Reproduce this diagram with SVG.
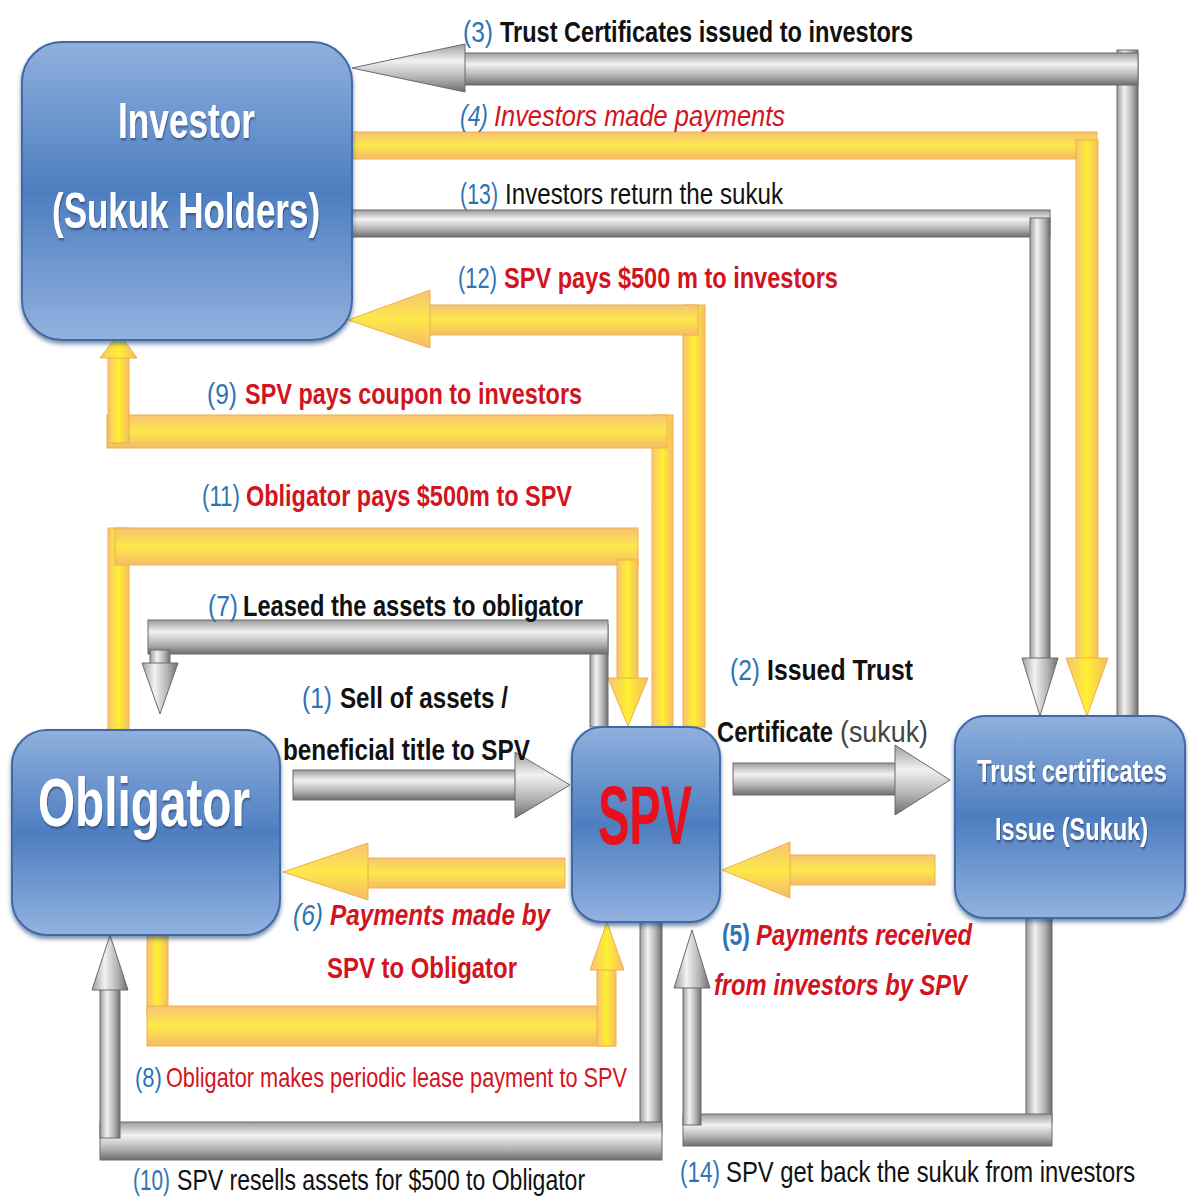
<svg xmlns="http://www.w3.org/2000/svg" width="1188" height="1201" viewBox="0 0 1188 1201">
<defs>
<linearGradient id="gH" x1="0" y1="0" x2="0" y2="1"><stop offset="0" stop-color="#9c9c9c"/><stop offset="0.35" stop-color="#f2f2f2"/><stop offset="0.7" stop-color="#b4b4b4"/><stop offset="1" stop-color="#6e6e6e"/></linearGradient>
<linearGradient id="gV" x1="0" y1="0" x2="1" y2="0"><stop offset="0" stop-color="#9c9c9c"/><stop offset="0.35" stop-color="#f2f2f2"/><stop offset="0.7" stop-color="#b4b4b4"/><stop offset="1" stop-color="#6e6e6e"/></linearGradient>
<linearGradient id="yH" x1="0" y1="0" x2="0" y2="1"><stop offset="0" stop-color="#f7c274"/><stop offset="0.5" stop-color="#fde84a"/><stop offset="1" stop-color="#f5bb66"/></linearGradient>
<linearGradient id="yV" x1="0" y1="0" x2="1" y2="0"><stop offset="0" stop-color="#f7c274"/><stop offset="0.5" stop-color="#fff030"/><stop offset="1" stop-color="#f5bb66"/></linearGradient>
<linearGradient id="box" x1="0" y1="0" x2="0" y2="1"><stop offset="0" stop-color="#8fb0dd"/><stop offset="0.5" stop-color="#4d7ec0"/><stop offset="1" stop-color="#93b2e0"/></linearGradient>
<filter id="sh" x="-10%" y="-10%" width="120%" height="125%"><feDropShadow dx="0" dy="3" stdDeviation="2" flood-color="#1f3f6e" flood-opacity="0.6"/></filter>
<filter id="tsh" x="-10%" y="-20%" width="120%" height="140%"><feDropShadow dx="1" dy="2" stdDeviation="1" flood-color="#1b2f55" flood-opacity="0.6"/></filter>
</defs>
<style>
.gh{fill:url(#gH);stroke:#6a6a6a;stroke-width:1}
.gv{fill:url(#gV);stroke:#6a6a6a;stroke-width:1}
.yh{fill:url(#yH);stroke:#f0b04c;stroke-width:1}
.yv{fill:url(#yV);stroke:#f0b04c;stroke-width:1}
.node{fill:url(#box);stroke:#3f6aa6;stroke-width:2;filter:url(#sh)}
.nt{font-family:"Liberation Sans",Arial,sans-serif;font-weight:bold;fill:#ffffff;filter:url(#tsh)}
.lb{font-family:"Liberation Sans",Arial,sans-serif;font-size:30px}
.n{fill:#2e74b5;font-weight:normal}
.k{fill:#111111}
.r{fill:#d2141e}
.b{font-weight:bold}
.i{font-style:italic}
</style>
<rect width="1188" height="1201" fill="#ffffff"/>
<g id="connectors">
<!-- (3) -->
<rect class="gv" x="1117" y="50" width="21" height="666"/>
<rect class="gh" x="462" y="53" width="676" height="32"/>
<polygon class="gh" points="352,68 465,44 465,92"/>
<!-- (4) -->
<rect class="yh" x="352" y="132" width="745" height="27"/>
<rect class="yv" x="1076" y="140" width="22" height="520"/>
<polygon class="yv" points="1066,658 1108,658 1087,716"/>
<!-- (13) -->
<rect class="gh" x="352" y="210" width="698" height="27"/>
<rect class="gv" x="1030" y="218" width="20" height="442"/>
<polygon class="gv" points="1022,658 1058,658 1040,716"/>
<!-- (12) -->
<rect class="yv" x="683" y="305" width="22" height="422"/>
<rect class="yh" x="428" y="305" width="270" height="30"/>
<polygon class="yh" points="348,320 430,290 430,348"/>
<!-- (9) -->
<rect class="yv" x="652" y="415" width="21" height="312"/>
<rect class="yh" x="107" y="415" width="560" height="33"/>
<rect class="yv" x="108" y="355" width="21" height="88"/>
<polygon class="yv" points="100,358 137,358 119,333"/>
<!-- (11) -->
<rect class="yv" x="108" y="528" width="21" height="202"/>
<rect class="yh" x="115" y="528" width="523" height="37"/>
<rect class="yv" x="617" y="560" width="21" height="120"/>
<polygon class="yv" points="608,678 648,678 628,726"/>
<!-- (7) -->
<rect class="gv" x="590" y="625" width="18" height="102"/>
<rect class="gh" x="148" y="620" width="460" height="34"/>
<rect class="gv" x="150" y="650" width="20" height="15"/>
<polygon class="gv" points="142,663 178,663 160,714"/>
<!-- (1) -->
<rect class="gh" x="293" y="770" width="224" height="30"/>
<polygon class="gh" points="515,752 515,818 570,785"/>
<!-- (6) -->
<rect class="yh" x="366" y="858" width="199" height="30"/>
<polygon class="yh" points="368,843 368,900 283,872"/>
<!-- (2) -->
<rect class="gh" x="733" y="763" width="164" height="32"/>
<polygon class="gh" points="895,745 895,815 950,780"/>
<!-- (5) -->
<rect class="yh" x="788" y="855" width="147" height="30"/>
<polygon class="yh" points="790,842 790,898 722,870"/>
<!-- (8) -->
<rect class="yv" x="147" y="935" width="21" height="80"/>
<rect class="yh" x="147" y="1006" width="468" height="40"/>
<rect class="yv" x="597" y="968" width="19" height="78"/>
<polygon class="yv" points="590,970 624,970 607,922"/>
<!-- (10) -->
<rect class="gv" x="640" y="922" width="22" height="210"/>
<rect class="gh" x="100" y="1122" width="562" height="38"/>
<rect class="gv" x="100" y="988" width="20" height="150"/>
<polygon class="gv" points="92,990 128,990 110,935"/>
<!-- (14) -->
<rect class="gv" x="1026" y="918" width="26" height="205"/>
<rect class="gh" x="683" y="1114" width="369" height="32"/>
<rect class="gv" x="683" y="985" width="18" height="140"/>
<polygon class="gv" points="674,988 710,988 692,930"/>
</g>
<g id="labels" class="lb" transform="scale(0.82,1)">
<text y="42"><tspan class="n" x="564.6" textLength="36.6" lengthAdjust="spacingAndGlyphs">(3)</tspan><tspan class="k b" x="609.8" textLength="503.7" lengthAdjust="spacingAndGlyphs">Trust Certificates issued to investors</tspan></text>
<text y="126"><tspan class="n i" x="561" textLength="34.1" lengthAdjust="spacingAndGlyphs">(4)</tspan><tspan class="r i" x="602.4" textLength="354.9" lengthAdjust="spacingAndGlyphs">Investors made payments</tspan></text>
<text y="204"><tspan class="n" x="561" textLength="46.3" lengthAdjust="spacingAndGlyphs">(13)</tspan><tspan class="k" x="615.9" textLength="339" lengthAdjust="spacingAndGlyphs">Investors return the sukuk</tspan></text>
<text y="288"><tspan class="n" x="558.5" textLength="47.6" lengthAdjust="spacingAndGlyphs">(12)</tspan><tspan class="r b" x="614.6" textLength="407.3" lengthAdjust="spacingAndGlyphs">SPV pays $500 m to investors</tspan></text>
<text y="404"><tspan class="n" x="252.4" textLength="36.6" lengthAdjust="spacingAndGlyphs">(9)</tspan><tspan class="r b" x="298.8" textLength="411" lengthAdjust="spacingAndGlyphs">SPV pays coupon to investors</tspan></text>
<text y="506"><tspan class="n" x="246.3" textLength="46.3" lengthAdjust="spacingAndGlyphs">(11)</tspan><tspan class="r b" x="300" textLength="397.6" lengthAdjust="spacingAndGlyphs">Obligator pays $500m to SPV</tspan></text>
<text y="616"><tspan class="n" x="253.7" textLength="36.6" lengthAdjust="spacingAndGlyphs">(7)</tspan><tspan class="k b" x="296.3" textLength="414.6" lengthAdjust="spacingAndGlyphs">Leased the assets to obligator</tspan></text>
<text y="708"><tspan class="n" x="368.3" textLength="36.6" lengthAdjust="spacingAndGlyphs">(1)</tspan><tspan class="k b" x="414.6" textLength="204.9" lengthAdjust="spacingAndGlyphs">Sell of assets /</tspan></text>
<text y="760"><tspan class="k b" x="345.1" textLength="301.2" lengthAdjust="spacingAndGlyphs">beneficial title to SPV</tspan></text>
<text y="680"><tspan class="n" x="890.2" textLength="36.6" lengthAdjust="spacingAndGlyphs">(2)</tspan><tspan class="k b" x="935.4" textLength="178" lengthAdjust="spacingAndGlyphs">Issued Trust</tspan></text>
<text y="742"><tspan class="k b" x="874.4" textLength="141.5" lengthAdjust="spacingAndGlyphs">Certificate</tspan><tspan fill="#444444" x="1024.4" textLength="107.3" lengthAdjust="spacingAndGlyphs">(sukuk)</tspan></text>
<text y="925"><tspan class="n i" x="357.3" textLength="36.6" lengthAdjust="spacingAndGlyphs">(6)</tspan><tspan class="r b i" x="402.4" textLength="268.3" lengthAdjust="spacingAndGlyphs">Payments made by</tspan></text>
<text y="978"><tspan class="r b" x="398.8" textLength="231.7" lengthAdjust="spacingAndGlyphs">SPV to Obligator</tspan></text>
<text y="945"><tspan class="n b" x="880.5" textLength="34.1" lengthAdjust="spacingAndGlyphs">(5)</tspan><tspan class="r b i" x="922" textLength="263.4" lengthAdjust="spacingAndGlyphs">Payments received</tspan></text>
<text y="995"><tspan class="r b i" x="870.7" textLength="308.5" lengthAdjust="spacingAndGlyphs">from investors by SPV</tspan></text>
<text y="1087" font-size="27"><tspan class="n" x="164.6" textLength="32.9" lengthAdjust="spacingAndGlyphs">(8)</tspan><tspan class="r" x="202.4" textLength="562.2" lengthAdjust="spacingAndGlyphs">Obligator makes periodic lease payment to SPV</tspan></text>
<text y="1190"><tspan class="n" x="162.2" textLength="45.1" lengthAdjust="spacingAndGlyphs">(10)</tspan><tspan class="k" x="215.9" textLength="497.6" lengthAdjust="spacingAndGlyphs">SPV resells assets for $500 to Obligator</tspan></text>
<text y="1182"><tspan class="n" x="829.3" textLength="48.8" lengthAdjust="spacingAndGlyphs">(14)</tspan><tspan class="k" x="885.4" textLength="498.8" lengthAdjust="spacingAndGlyphs">SPV get back the sukuk from investors</tspan></text>
</g>
<g id="investor">
<rect class="node" x="22" y="42" width="330" height="298" rx="40"/>
<text class="nt" transform="translate(118,138) scale(0.7,1)" x="0" y="0" font-size="50" textLength="195.7" lengthAdjust="spacingAndGlyphs">Investor</text>
<text class="nt" transform="translate(52,228) scale(0.7,1)" x="0" y="0" font-size="50" textLength="382.9" lengthAdjust="spacingAndGlyphs">(Sukuk Holders)</text>
</g>
<g id="obligator">
<rect class="node" x="12" y="730" width="268" height="205" rx="35"/>
<text class="nt" transform="translate(38,826) scale(0.7,1)" x="0" y="0" font-size="68" textLength="302.9" lengthAdjust="spacingAndGlyphs">Obligator</text>
</g>
<g id="spv">
<rect class="node" x="572" y="727" width="148" height="195" rx="30"/>
<text transform="translate(598,844) scale(0.56,1)" x="0" y="0" font-family="'Liberation Sans',Arial,sans-serif" font-weight="bold" font-size="84" fill="#e8101a" textLength="167.9" lengthAdjust="spacingAndGlyphs">SPV</text>
</g>
<g id="trust">
<rect class="node" x="955" y="716" width="230" height="202" rx="30"/>
<text class="nt" transform="translate(977,782) scale(0.74,1)" x="0" y="0" font-size="32" textLength="256.8" lengthAdjust="spacingAndGlyphs">Trust certificates</text>
<text class="nt" transform="translate(995,840) scale(0.74,1)" x="0" y="0" font-size="32" textLength="206.8" lengthAdjust="spacingAndGlyphs">Issue (Sukuk)</text>
</g>
</svg>
